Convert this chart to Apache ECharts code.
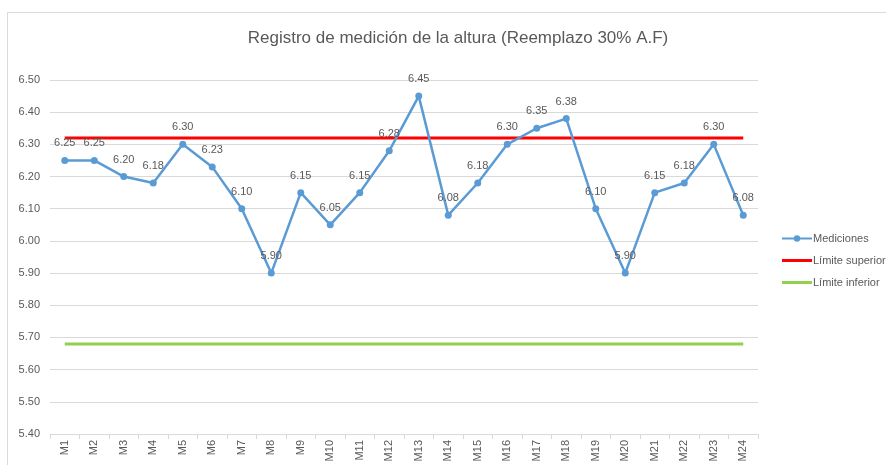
<!DOCTYPE html>
<html>
<head>
<meta charset="utf-8">
<script src="https://cdn.jsdelivr.net/npm/echarts@6/dist/echarts.min.js"></script>
<style>
  html, body { margin: 0; padding: 0; background: #fff; }
  #chart { width: 886px; height: 465px; }
</style>
</head>
<body>
<div id="chart"></div>
<script>
// Months of the measurement log
const months = ['M1','M2','M3','M4','M5','M6','M7','M8','M9','M10','M11','M12',
                'M13','M14','M15','M16','M17','M18','M19','M20','M21','M22','M23','M24'];
// Measured heights
const mediciones = [6.25, 6.25, 6.20, 6.18, 6.30, 6.23, 6.10, 5.90, 6.15, 6.05, 6.15, 6.28,
                    6.45, 6.08, 6.18, 6.30, 6.35, 6.38, 6.10, 5.90, 6.15, 6.18, 6.30, 6.08];
// Control limits
const limiteSuperior = 6.32;
const limiteInferior = 5.68;
// Value axis range
const yMin = 5.40, yMax = 6.50, yStep = 0.10;

const chart = echarts.init(document.getElementById('chart'), null, { renderer: 'canvas' });
const gray = '#595959';
const font = 'Liberation Sans, Arial, sans-serif';
// plain bar icon for the limit lines in the legend
const barIcon = 'path://M0,0L30,0L30,3L0,3Z';

chart.setOption({
  animation: false,
  textStyle: { fontFamily: font },
  title: {
    text: 'Registro de medición de la altura (Reemplazo 30% A.F)',
    left: 453, top: 25, textAlign: 'center',
    textStyle: { fontSize: 17, fontWeight: 'normal', color: gray, fontFamily: font }
  },
  graphic: [
    { type: 'line', shape: { x1: 7.5, y1: 12.5, x2: 886, y2: 12.5 }, style: { stroke: '#d9d9d9', lineWidth: 1 } },
    { type: 'line', shape: { x1: 7.5, y1: 12.5, x2: 7.5, y2: 465 }, style: { stroke: '#d9d9d9', lineWidth: 1 } }
  ],
  legend: {
    orient: 'vertical', left: 776, top: 228,
    itemWidth: 30, itemHeight: 8, itemGap: 11,
    textStyle: { fontSize: 11, color: gray, padding: [0, 0, 0, -4] },
    data: [
      { name: 'Mediciones' },
      { name: 'Límite superior', icon: barIcon },
      { name: 'Límite inferior', icon: barIcon }
    ]
  },
  grid: { left: 50, right: 128, top: 80, bottom: 31, containLabel: false },
  xAxis: {
    type: 'category', data: months, boundaryGap: true,
    axisLine: { lineStyle: { color: '#d9d9d9' } },
    axisTick: { show: true, length: 5, lineStyle: { color: '#d9d9d9' } },
    axisLabel: { rotate: 90, color: gray, fontSize: 11, margin: 6 }
  },
  yAxis: {
    type: 'value', min: yMin, max: yMax, interval: yStep,
    axisLine: { show: false }, axisTick: { show: false },
    axisLabel: { color: gray, fontSize: 11, margin: 10, formatter: v => v.toFixed(2) },
    splitLine: { lineStyle: { color: '#d9d9d9', width: 1 } }
  },
  series: [
    {
      name: 'Límite superior', type: 'line',
      data: months.map(() => limiteSuperior),
      showSymbol: false, symbol: 'none',
      lineStyle: { color: '#ff0000', width: 3 }, itemStyle: { color: '#ff0000' },
      z: 2
    },
    {
      name: 'Límite inferior', type: 'line',
      data: months.map(() => limiteInferior),
      showSymbol: false, symbol: 'none',
      lineStyle: { color: '#92d050', width: 3 }, itemStyle: { color: '#92d050' },
      z: 2
    },
    {
      name: 'Mediciones', type: 'line', data: mediciones,
      symbol: 'circle', symbolSize: 7,
      lineStyle: { color: '#5b9bd5', width: 2.5 }, itemStyle: { color: '#5b9bd5' },
      label: {
        show: true, position: 'top', distance: 8, color: gray, fontSize: 11,
        formatter: p => p.value.toFixed(2)
      },
      z: 3
    }
  ]
});
</script>
</body>
</html>
